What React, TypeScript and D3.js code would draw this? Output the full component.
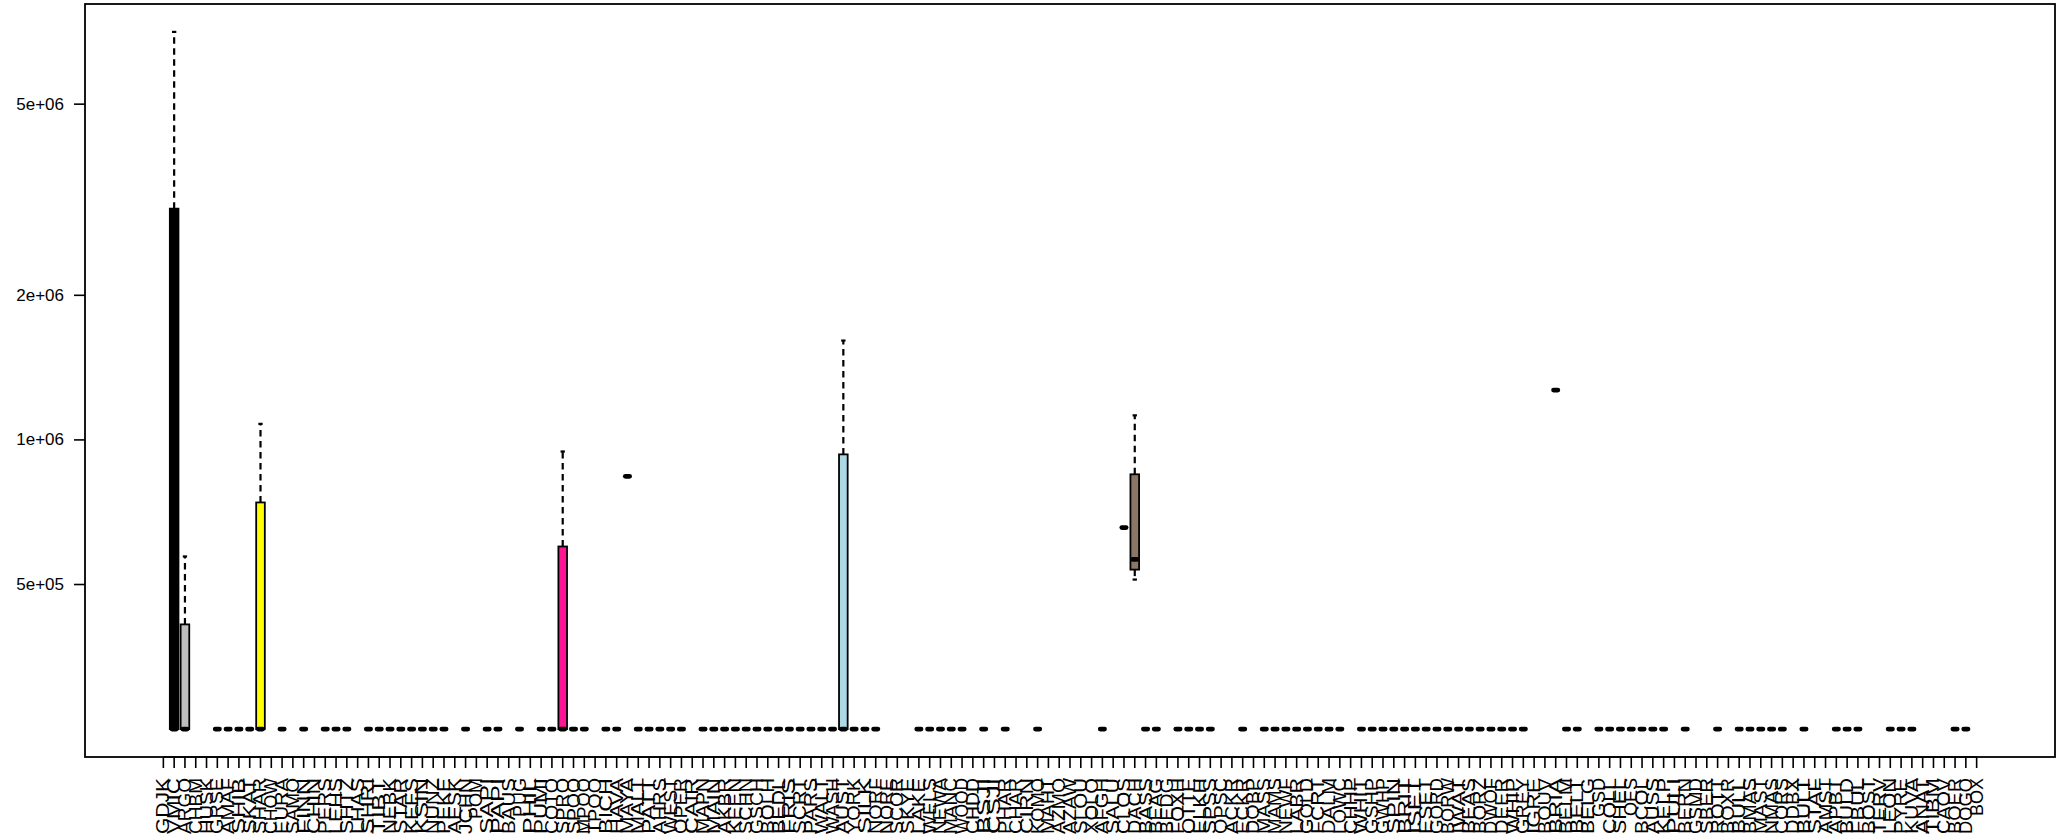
import React from "react";
import * as d3 from "d3";

// ---------- data ----------
const categories: string[] = [
  "GDJK","VMIC","ARGO","CHBM","HUSK","GRSE","AMAF","SHIB","SKAT","SHAR",
  "CHOW","EURA","SAMO","FINN","CHIN","PERS","LEHS","SHTZ","LHAS","SHRI",
  "TIBT","NEBK","STAR","KEES","KSIN","NUNZ","PEKE","AESK","JCHN","POM",
  "SAPI","PAPI","BAUS","PUG","PHIL","PUMI","COTO","SPRO","SPOO","MPOO",
  "TPOO","BICH","HAVA","MAYA","MALT","PATT","AHRS","WEST","OPER","CAIR",
  "MAPN","MAIN","AKBR","KEEN","SCHN","GSCH","BOLH","BEDL","FRIS","SCRT",
  "PARS","WALT","WASH","AUST","YORK","SILK","NORF","NORE","SCOR","SKYE",
  "LAKE","WELS","NEWA","MANC","WOOD","CHDD","BSJI","CSJI","PHAR","CHAR",
  "CIRN","KOMO","MAHT","AZMO","AZAW","SLOU","XOLO","AFGH","SALU","CLOS",
  "DACH","BASS","BEAG","BEDG","FOXH","OTTE","ELKH","SPSS","OPSC","ACKR",
  "ECKR","DOBP","MASS","MAMS","NEWF","LABR","GOLD","FCRT","DALM","LOWC",
  "CHHP","WHIT","GSHP","GWHP","SPIN","BRIT","ISET","ESET","GORD","BORW",
  "IWAT","BEAS","BORZ","DWOF","DEER","WHIP","GREY","IGRE","BOUV","BRIA",
  "BELM","BELT","BELG","GSD","COLL","SHEL","OES","BCOL","AUSS","KELP",
  "PULI","BERN","GSMD","SBER","ROTT","BOXR","BULL","BMAS","MAST","NMAS",
  "CORS","DDBX","BULT","STAF","AMST","APBT","BULD","FBUL","BOST","TERV",
  "LEON","PYRE","KUVA","ANAT","TIBM","CAOV","BOER","DOGO","BOX"
];

const L = 2.5e5; // lowest observed value
// groups whose observations are all the same value (null = no single-value group)
const singleValues: (number | null)[] = [
  null, null, null, null, null, L, L, L, L, null,
  null, L, null, L, null, L, L, L, null, L,
  L, L, L, L, L, L, L, null, L, null,
  L, L, null, L, null, L, L, null, L, L,
  null, L, L, 8.4e5, L, L, L, L, L, null,
  L, L, L, L, L, L, L, L, L, L,
  L, L, L, null, L, L, L, null, null, null,
  L, L, L, L, L, null, L, null, L, null,
  null, L, null, null, null, null, null, L, null, 6.57e5,
  null, L, L, null, L, L, L, L, null, null,
  L, null, L, L, L, L, L, L, L, L,
  null, L, L, L, L, L, L, L, L, L,
  L, L, L, L, L, L, L, null, null, 1.27e6,
  L, L, null, L, L, L, L, L, L, L,
  null, L, null, null, L, null, L, L, L, L,
  L, null, L, null, null, L, L, L, null, null,
  L, L, L, null, null, null, L, L, null
];

// five-number summaries of the groups drawn as boxes
const boxCats: string[] = ["VMIC", "ARGO", "SHAR", "SPRO", "AUST", "DACH"];
const boxMin: number[] = [2.5e5, 2.5e5, 2.5e5, 2.5e5, 2.5e5, 5.12e5];
const boxQ1: number[] = [2.5e5, 2.5e5, 2.5e5, 2.5e5, 2.5e5, 5.37e5];
const boxMed: number[] = [2.5e5, 2.5e5, 2.5e5, 2.5e5, 2.5e5, 5.64e5];
const boxQ3: number[] = [3.03e6, 4.13e5, 7.41e5, 6.0e5, 9.33e5, 8.48e5];
const boxMax: number[] = [7.07e6, 5.72e5, 1.08e6, 9.46e5, 1.61e6, 1.125e6];
const boxColors: string[] = ["#000000", "#BEBEBE", "#FFFF00", "#FF1493", "#ADD8E6", "#8B7765"];

const yTicks: number[] = [5e5, 1e6, 2e6, 5e6];
const yTickLabels: string[] = ["5e+05", "1e+06", "2e+06", "5e+06"];

// ---------- layout ----------
const W = 2058;
const H = 837;
const plotL = 85;
const plotR = 2055;
const plotT = 4;
const plotB = 757;
const FONT = "'Liberation Sans', Arial, Helvetica, sans-serif";

export default function App() {
  const n = categories.length;
  const pad = 0.04 * n;
  const x = d3.scaleLinear().domain([0.5 - pad, n + 0.5 + pad]).range([plotL, plotR]);

  const allVals: number[] = [
    ...(singleValues.filter((v) => v != null) as number[]),
    ...boxMin,
    ...boxMax,
  ];
  const lo = Math.log10(d3.min(allVals) as number);
  const hi = Math.log10(d3.max(allVals) as number);
  const lp = (hi - lo) * 0.04;
  const y = d3.scaleLog().domain([Math.pow(10, lo - lp), Math.pow(10, hi + lp)]).range([plotB, plotT]);

  const hw = x(1.4) - x(1); // box half width
  const sw = x(1.2) - x(1); // staple half width

  const posOf = (cat: string) => categories.indexOf(cat) + 1;

  const medianLine = (cx: number, v: number, key: string) => (
    <line
      key={key}
      x1={cx - hw + 2.2}
      x2={cx + hw - 2.2}
      y1={y(v)}
      y2={y(v)}
      stroke="#000"
      strokeWidth={4.8}
      strokeLinecap="round"
    />
  );

  const labelMax = 56;

  return (
    <svg
      width={W}
      height={H}
      style={{ position: "absolute", left: 0, top: 0, background: "#fff" }}
      fontFamily={FONT}
    >
      <rect x={0} y={0} width={W} height={H} fill="#fff" />

      {/* single-value groups */}
      {singleValues.map((v, i) =>
        v == null ? null : medianLine(x(i + 1), v, "s" + i)
      )}

      {/* boxes */}
      {boxCats.map((c, j) => {
        const cx = x(posOf(c));
        const yq1 = y(boxQ1[j]);
        const yq3 = y(boxQ3[j]);
        return (
          <g key={"b" + j}>
            {boxMax[j] > boxQ3[j] && (
              <g>
                <line
                  x1={cx}
                  x2={cx}
                  y1={yq3}
                  y2={y(boxMax[j])}
                  stroke="#000"
                  strokeWidth={2.2}
                  strokeDasharray="6.5 4.5"
                />
                <line
                  x1={cx - sw}
                  x2={cx + sw}
                  y1={y(boxMax[j])}
                  y2={y(boxMax[j])}
                  stroke="#000"
                  strokeWidth={2.2}
                />
              </g>
            )}
            {boxMin[j] < boxQ1[j] && (
              <g>
                <line
                  x1={cx}
                  x2={cx}
                  y1={yq1}
                  y2={y(boxMin[j])}
                  stroke="#000"
                  strokeWidth={2.2}
                  strokeDasharray="6.5 4.5"
                />
                <line
                  x1={cx - sw}
                  x2={cx + sw}
                  y1={y(boxMin[j])}
                  y2={y(boxMin[j])}
                  stroke="#000"
                  strokeWidth={2.2}
                />
              </g>
            )}
            <rect
              x={cx - hw}
              y={yq3}
              width={2 * hw}
              height={yq1 - yq3}
              fill={boxColors[j]}
              stroke="#000"
              strokeWidth={1.8}
            />
            {medianLine(cx, boxMed[j], "m" + j)}
          </g>
        );
      })}

      {/* plot frame */}
      <rect
        x={plotL}
        y={plotT}
        width={plotR - plotL}
        height={plotB - plotT}
        fill="none"
        stroke="#000"
        strokeWidth={1.8}
      />

      {/* y axis */}
      <g>
        {yTicks.map((t, i) => (
          <g key={"yt" + i}>
            <line x1={plotL - 11} x2={plotL} y1={y(t)} y2={y(t)} stroke="#000" strokeWidth={1.6} />
            <text
              x={plotL - 21}
              y={y(t)}
              textAnchor="end"
              dominantBaseline="central"
              fontSize={17}
              fill="#000"
            >
              {yTickLabels[i]}
            </text>
          </g>
        ))}
      </g>

      {/* x axis */}
      <g>
        <line x1={x(1)} x2={x(n)} y1={plotB} y2={plotB} stroke="#000" strokeWidth={1.6} />
        {categories.map((c, i) => {
          const cx = x(i + 1);
          const wide = c.length * 18 * 0.78 > labelMax;
          return (
            <g key={"xt" + i}>
              <line x1={cx} x2={cx} y1={plotB} y2={plotB + 11} stroke="#000" strokeWidth={1.6} />
              <text
                transform={`translate(${cx},${plotB + 21}) rotate(-90)`}
                textAnchor="end"
                dominantBaseline="central"
                fontSize={18}
                fill="#000"
                textLength={wide ? labelMax : undefined}
                lengthAdjust={wide ? "spacingAndGlyphs" : undefined}
              >
                {c}
              </text>
            </g>
          );
        })}
      </g>
    </svg>
  );
}
